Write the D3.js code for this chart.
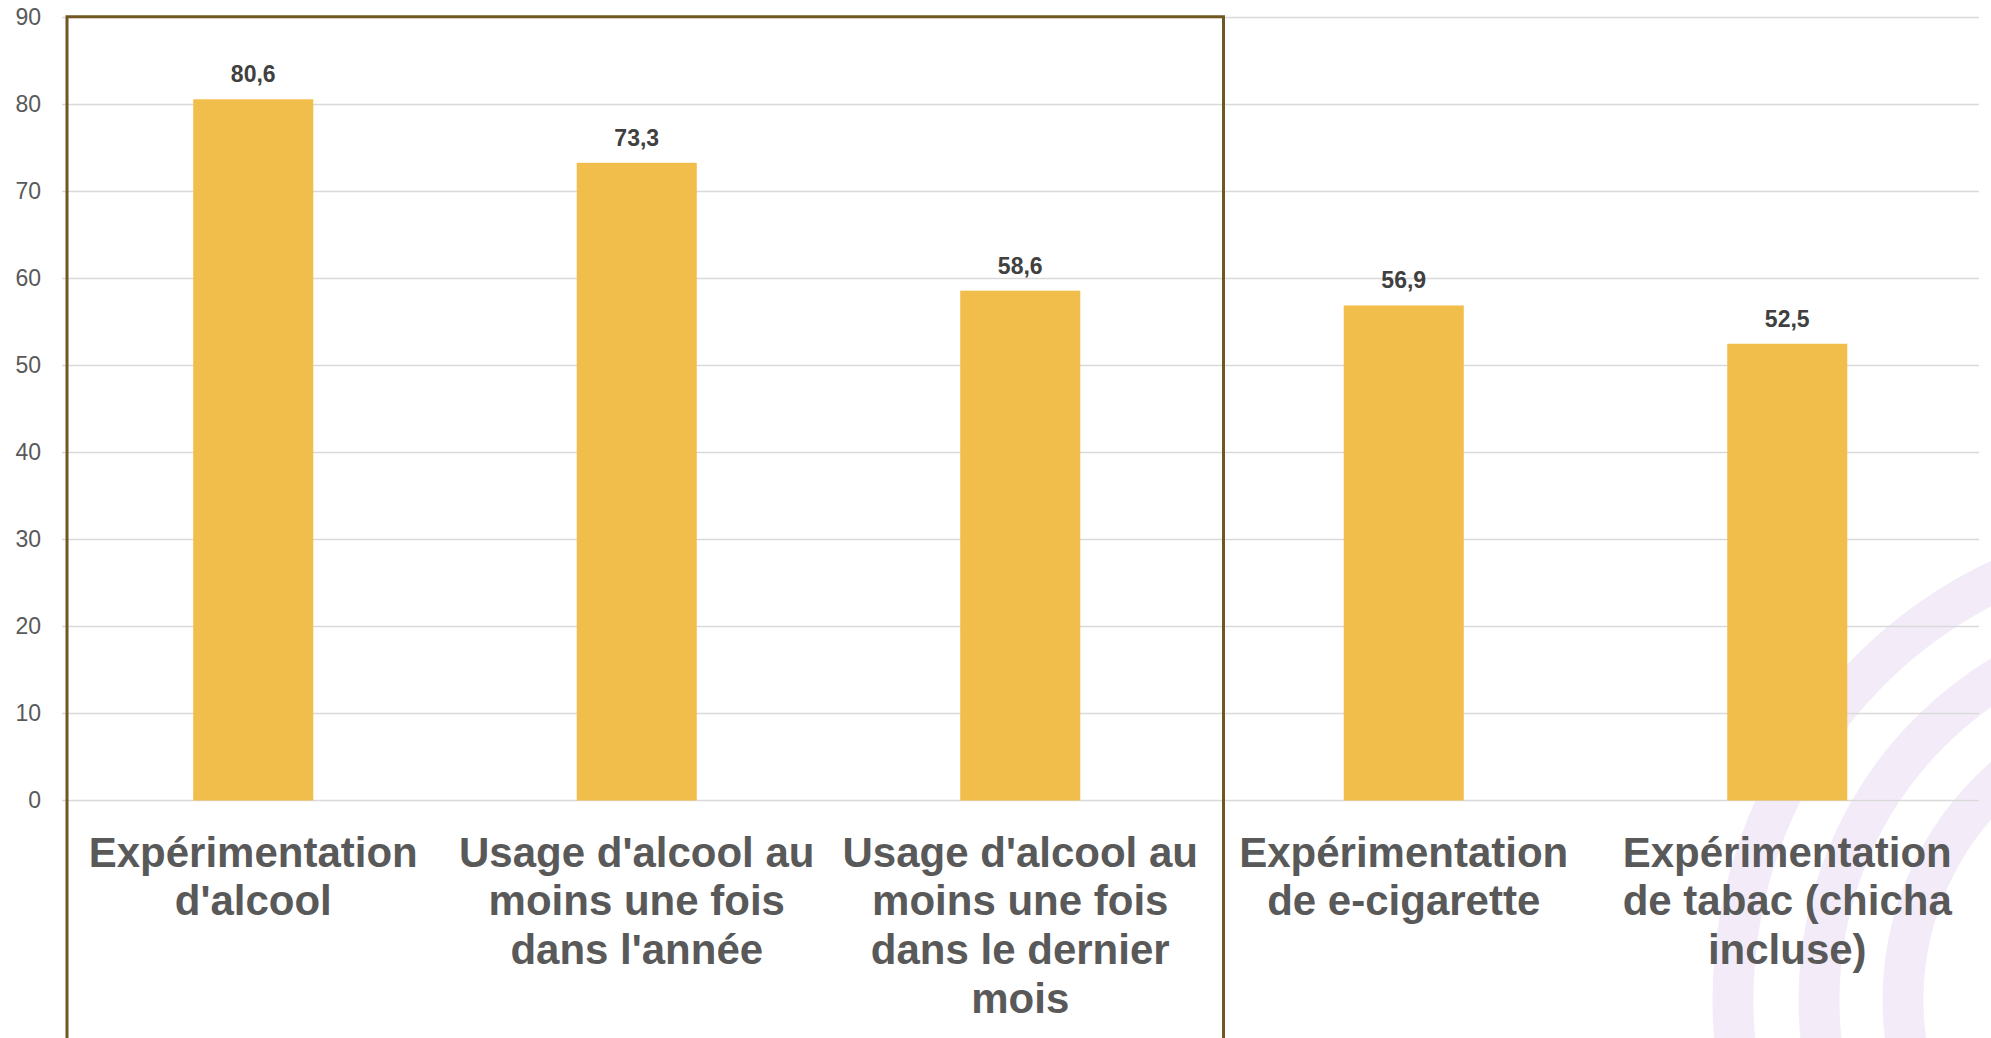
<!DOCTYPE html>
<html>
<head>
<meta charset="utf-8">
<script src="https://cdn.jsdelivr.net/npm/d3@7"></script>
<style>
  html, body { margin: 0; padding: 0; background: #fff; overflow: hidden; }
  svg { display: block; font-family: "Liberation Sans", Arial, sans-serif; }
</style>
</head>
<body>
<svg class="chart"></svg>
<script>
// data
var categories = [
  "Expérimentation d'alcool",
  "Usage d'alcool au moins une fois dans l'année",
  "Usage d'alcool au moins une fois dans le dernier mois",
  "Expérimentation de e-cigarette",
  "Expérimentation de tabac (chicha incluse)"
];
var labelLines = [
  ["Expérimentation", "d'alcool"],
  ["Usage d'alcool au", "moins une fois", "dans l'année"],
  ["Usage d'alcool au", "moins une fois", "dans le dernier", "mois"],
  ["Expérimentation", "de e-cigarette"],
  ["Expérimentation", "de tabac (chicha", "incluse)"]
];
var values = [80.6, 73.3, 58.6, 56.9, 52.5];
var yTicks = [0, 10, 20, 30, 40, 50, 60, 70, 80, 90];

var W = 1991, H = 1038;

var chart = d3.select(".chart")
  .attr("width", W)
  .attr("height", H);

var x = d3.scaleBand()
  .domain(categories)
  .range([61.5, 1979])
  .paddingInner(0.687)
  .paddingOuter(0.3435);

var y = d3.scaleLinear()
  .domain([0, 90])
  .range([800.5, 17.5]);

// background arcs (decoration, bottom right)
var arcs = chart.append("g").attr("class", "deco");
[465, 379, 295].forEach(function(r) {
  arcs.append("circle")
    .attr("cx", 2198)
    .attr("cy", 1000)
    .attr("r", r)
    .style("fill", "none")
    .style("stroke", "#f3ecf8")
    .style("stroke-width", 41);
});

// gridlines
var grid = chart.append("g").attr("class", "grid");
grid.selectAll("line")
  .data(yTicks)
  .enter().append("line")
  .attr("x1", 62)
  .attr("x2", 1979)
  .attr("y1", function(d) { return y(d); })
  .attr("y2", function(d) { return y(d); })
  .style("stroke", "#d9d9d9")
  .style("stroke-width", 1.5);

// y axis labels
var yAxis = chart.append("g")
  .attr("transform", "translate(62,0)")
  .call(d3.axisLeft(y).tickValues(yTicks).tickSize(0).tickPadding(21));
yAxis.select(".domain").remove();
yAxis.selectAll("text")
  .style("font-family", "'Liberation Sans', Arial, sans-serif")
  .style("font-size", "23px")
  .style("fill", "#595959");

// bars
chart.append("g").selectAll("rect")
  .data(values)
  .enter().append("rect")
  .attr("x", function(d, i) { return x(categories[i]); })
  .attr("width", x.bandwidth())
  .attr("y", function(d) { return y(d); })
  .attr("height", function(d) { return y(0) - y(d); })
  .style("fill", "#f2be4b");

// value labels
chart.append("g").selectAll("text")
  .data(values)
  .enter().append("text")
  .attr("x", function(d, i) { return x(categories[i]) + x.bandwidth() / 2; })
  .attr("y", function(d) { return y(d) - 17; })
  .attr("text-anchor", "middle")
  .style("font-size", "23px")
  .style("font-weight", "bold")
  .style("fill", "#404040")
  .text(function(d) { return d3.format(".1f")(d).replace(".", ","); });

// category labels
var cat = chart.append("g").selectAll("text")
  .data(labelLines)
  .enter().append("text")
  .attr("text-anchor", "middle")
  .attr("x", function(d, i) { return x(categories[i]) + x.bandwidth() / 2; })
  .attr("y", y(0) + 66)
  .style("font-size", "42px")
  .style("font-weight", "bold")
  .style("fill", "#595959");
cat.each(function(lines, i) {
  var t = d3.select(this);
  var cx = x(categories[i]) + x.bandwidth() / 2;
  lines.forEach(function(l, j) {
    t.append("tspan")
      .attr("x", cx)
      .attr("dy", j === 0 ? 0 : 48.7)
      .text(l);
  });
});

// box around the alcohol group
var boxLeft = x.range()[0] + 5.5;
var boxRight = x(categories[2]) + x.bandwidth() + x.step() * x.paddingInner() / 2 + 11.5;
chart.append("path")
  .attr("d", "M" + boxLeft + "," + (H + 10) + "V" + y(90.1) + "H" + boxRight + "V" + (H + 10))
  .style("fill", "none")
  .style("stroke", "#715720")
  .style("stroke-width", 3);
</script>
</body>
</html>
